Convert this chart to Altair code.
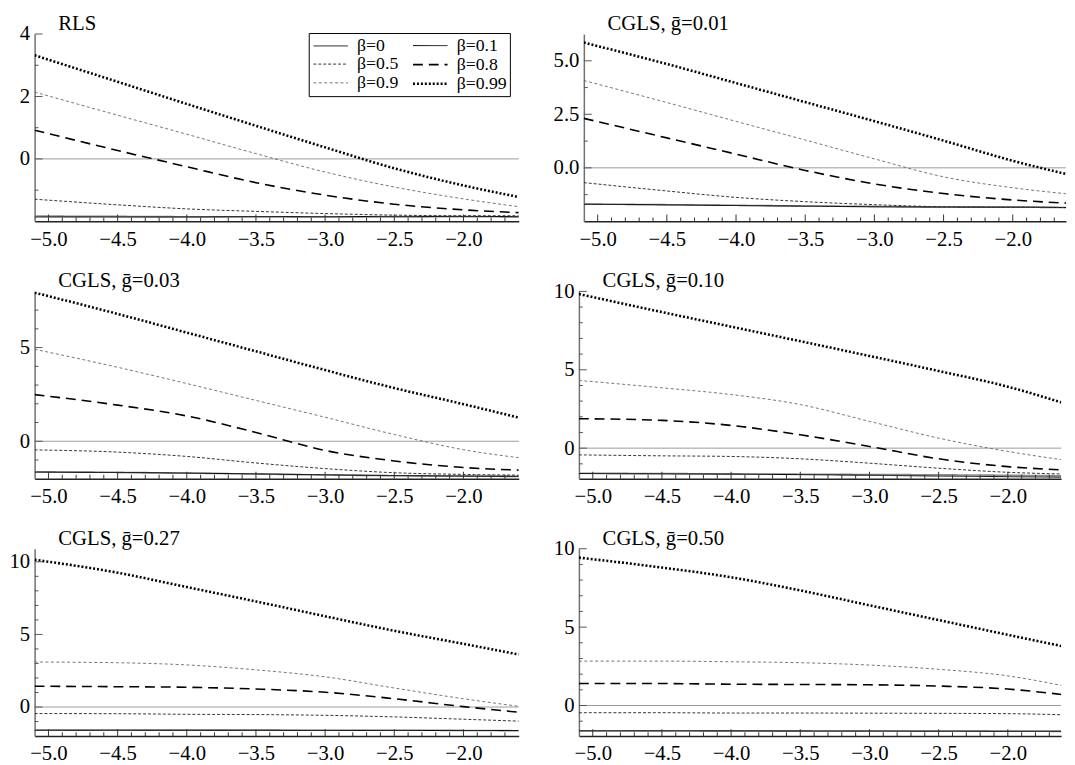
import altair as alt
import pandas as pd

# ---------------- data ----------------
X = [-5.1, -4.5, -4.0, -3.5, -3.0, -2.5, -2.0, -1.6]
BETAS = ["β=0", "β=0.1", "β=0.5", "β=0.8", "β=0.9", "β=0.99"]
X_MAJOR = [-5.0, -4.5, -4.0, -3.5, -3.0, -2.5, -2.0]
X_MINOR = [round(-5.0 + 0.1 * i, 2) for i in range(34) if i % 5 != 0]

RLS_B0 = [-1.83, -1.84, -1.85, -1.85, -1.86, -1.86, -1.85, -1.86]
RLS_B01 = [-1.86, -1.86, -1.86, -1.85, -1.85, -1.84, -1.84, -1.85]
RLS_B05 = [-1.29, -1.47, -1.60, -1.68, -1.75, -1.80, -1.82, -1.82]
RLS_B08 = [0.92, 0.27, -0.25, -0.76, -1.16, -1.45, -1.63, -1.72]
RLS_B09 = [2.14, 1.40, 0.79, 0.17, -0.42, -0.90, -1.28, -1.53]
RLS_B099 = [3.32, 2.47, 1.76, 1.06, 0.37, -0.30, -0.85, -1.22]

G001_B0 = [-1.69, -1.72, -1.75, -1.78, -1.80, -1.83, -1.84, -1.85]
G001_B01 = [-1.70, -1.73, -1.76, -1.79, -1.82, -1.83, -1.83, -1.86]
G001_B05 = [-0.69, -1.08, -1.38, -1.58, -1.72, -1.82, -1.85, -1.85]
G001_B08 = [2.31, 1.40, 0.64, -0.12, -0.75, -1.20, -1.50, -1.65]
G001_B09 = [4.08, 3.05, 2.17, 1.30, 0.42, -0.42, -0.93, -1.22]
G001_B099 = [5.85, 4.85, 3.96, 3.07, 2.18, 1.27, 0.33, -0.31]

G003_B0 = [-1.63, -1.66, -1.70, -1.75, -1.80, -1.84, -1.86, -1.88]
G003_B01 = [-1.65, -1.67, -1.70, -1.74, -1.79, -1.83, -1.86, -1.87]
G003_B05 = [-0.46, -0.58, -0.81, -1.16, -1.46, -1.68, -1.77, -1.81]
G003_B08 = [2.49, 1.93, 1.35, 0.47, -0.49, -1.05, -1.40, -1.54]
G003_B09 = [4.91, 3.95, 3.08, 2.18, 1.28, 0.36, -0.45, -0.88]
G003_B099 = [7.93, 6.80, 5.80, 4.80, 3.80, 2.84, 1.98, 1.26]

G010_B0 = [-1.60, -1.62, -1.64, -1.66, -1.68, -1.70, -1.73, -1.76]
G010_B01 = [-1.62, -1.64, -1.66, -1.69, -1.73, -1.78, -1.82, -1.85]
G010_B05 = [-0.43, -0.49, -0.53, -0.68, -0.96, -1.28, -1.54, -1.65]
G010_B08 = [1.88, 1.77, 1.45, 0.85, 0.11, -0.68, -1.18, -1.39]
G010_B09 = [4.32, 3.85, 3.42, 2.78, 1.71, 0.64, -0.21, -0.75]
G010_B099 = [9.83, 8.68, 7.75, 6.82, 5.88, 4.92, 3.92, 2.88]

G027_B0 = [-1.58, -1.58, -1.59, -1.59, -1.60, -1.60, -1.61, -1.63]
G027_B01 = [-1.60, -1.60, -1.60, -1.60, -1.61, -1.61, -1.62, -1.62]
G027_B05 = [-0.45, -0.46, -0.50, -0.52, -0.57, -0.68, -0.84, -0.97]
G027_B08 = [1.43, 1.40, 1.36, 1.24, 1.02, 0.57, 0.03, -0.36]
G027_B09 = [3.10, 3.05, 2.90, 2.56, 2.08, 1.31, 0.57, 0.05]
G027_B099 = [10.14, 9.25, 8.26, 7.27, 6.25, 5.25, 4.35, 3.62]

G050_B0 = [-1.61, -1.61, -1.62, -1.62, -1.63, -1.63, -1.64, -1.65]
G050_B01 = [-1.62, -1.62, -1.62, -1.63, -1.63, -1.64, -1.64, -1.64]
G050_B05 = [-0.46, -0.46, -0.48, -0.48, -0.49, -0.50, -0.52, -0.59]
G050_B08 = [1.40, 1.40, 1.36, 1.34, 1.32, 1.24, 1.05, 0.69]
G050_B09 = [2.83, 2.83, 2.79, 2.73, 2.58, 2.31, 1.89, 1.26]
G050_B099 = [9.43, 8.80, 8.18, 7.34, 6.39, 5.45, 4.51, 3.77]

TITLES = ["RLS", "CGLS, ḡ=0.01", "CGLS, ḡ=0.03", "CGLS, ḡ=0.10", "CGLS, ḡ=0.27", "CGLS, ḡ=0.50"]
SERIES = [
    [RLS_B0, RLS_B01, RLS_B05, RLS_B08, RLS_B09, RLS_B099],
    [G001_B0, G001_B01, G001_B05, G001_B08, G001_B09, G001_B099],
    [G003_B0, G003_B01, G003_B05, G003_B08, G003_B09, G003_B099],
    [G010_B0, G010_B01, G010_B05, G010_B08, G010_B09, G010_B099],
    [G027_B0, G027_B01, G027_B05, G027_B08, G027_B09, G027_B099],
    [G050_B0, G050_B01, G050_B05, G050_B08, G050_B09, G050_B099],
]
Y_DOMAINS = [[-2.0, 4.0], [-2.5, 6.25], [-2.0, 8.0], [-1.95, 10.0], [-2.0, 10.9], [-1.95, 10.0]]
Y_MAJOR = [[0, 2, 4], [0, 2.5, 5], [0, 5], [0, 5, 10], [0, 5, 10], [0, 5, 10]]
Y_MINOR = [[-1, 1, 3], [-1.25, 1.25, 3.75], [-1, 1, 2, 3, 4, 6, 7],
           [-1, 1, 2, 3, 4, 6, 7, 8, 9], [-1, 1, 2, 3, 4, 6, 7, 8, 9], [-1, 1, 2, 3, 4, 6, 7, 8, 9]]
Y_FORMATS = ["d", ".1f", "d", "d", "d", "d"]

# ---------------- style ----------------
COLORS = ["#8a8a8a", "#000000", "#333333", "#000000", "#666666", "#000000"]
DASHES = [[1, 0], [1, 0], [3, 2], [10, 6], [3, 2.5], [2, 2]]
WIDTHS = [1.6, 1.0, 1.0, 1.6, 0.9, 2.6]
FONT = "Liberation Serif"
H = 190
W_LEFT = 491
W_RIGHT = 489
X_DOM_LEFT = [-5.1, -1.6]
X_DOM_RIGHT = [-5.1, -1.615]


def panel(i):
    width = W_LEFT if i % 2 == 0 else W_RIGHT
    xdom = X_DOM_LEFT if i % 2 == 0 else X_DOM_RIGHT
    rows = []
    for b, vals in zip(BETAS, SERIES[i]):
        for x, y in zip(X, vals):
            rows.append({"x": x, "y": y, "beta": b})
    df = pd.DataFrame(rows)
    xs = alt.Scale(domain=xdom, nice=False, zero=False)
    ys = alt.Scale(domain=Y_DOMAINS[i], nice=False, zero=False)

    if i == 0:
        legend = alt.Legend(
            title=None, orient="none", legendX=278, legendY=-1, columns=2, direction="horizontal",
            symbolType="M-1,0H3", symbolSize=306, labelFontSize=18, labelFont=FONT,
            labelColor="black", strokeColor="black", fillColor="white",
            padding=3, rowPadding=0, columnPadding=9, labelOffset=25,
        )
    else:
        legend = None

    x_main = alt.Axis(values=X_MAJOR, ticks=False, tickSize=0, labelPadding=7,
                      labelExpr="(datum.value < 0 ? '\u2212' : '') + format(abs(datum.value), '.1f')",
                      domainColor="#222222", domainWidth=1.5, grid=False, title=None,
                      labelFontSize=21, labelFont=FONT, labelColor="black",
                      minExtent=28, maxExtent=28, labelFlush=False)
    y_main = alt.Axis(values=Y_MAJOR[i], format=Y_FORMATS[i], ticks=False, tickSize=0,
                      labelPadding=5, domainColor="#707070", domainWidth=1.5, grid=False,
                      title=None, labelFontSize=21, labelFont=FONT, labelColor="black",
                      minExtent=27, maxExtent=27)

    lines = alt.Chart(df).mark_line(interpolate="monotone", clip=True).encode(
        x=alt.X("x:Q", scale=xs, axis=x_main),
        y=alt.Y("y:Q", scale=ys, axis=y_main),
        color=alt.Color("beta:N", scale=alt.Scale(domain=BETAS, range=COLORS), legend=legend),
        strokeDash=alt.StrokeDash("beta:N", scale=alt.Scale(domain=BETAS, range=DASHES), legend=legend),
        strokeWidth=alt.StrokeWidth("beta:N", scale=alt.Scale(type="ordinal", domain=BETAS, range=WIDTHS),
                                    legend=legend),
    )

    def xticks(vals, size):
        return alt.Chart(pd.DataFrame({"xt": vals})).mark_tick(
            orient="vertical", size=size, thickness=1, color="#333333", opacity=1
        ).encode(x=alt.X("xt:Q", scale=xs, axis=None), y=alt.value(H - size / 2))

    def yticks(vals, size):
        return alt.Chart(pd.DataFrame({"yt": vals})).mark_tick(
            orient="horizontal", size=size, thickness=1, color="#555555", opacity=1
        ).encode(y=alt.Y("yt:Q", scale=ys, axis=None), x=alt.value(size / 2))

    zero = alt.Chart(pd.DataFrame({"z": [0]})).mark_rule(color="#9a9a9a", strokeWidth=1).encode(
        y=alt.Y("z:Q", scale=ys, axis=None)
    )

    title = alt.Chart(pd.DataFrame({"t": [TITLES[i]]})).mark_text(
        align="left", baseline="alphabetic", fontSize=21, font=FONT, color="black"
    ).encode(text="t:N", x=alt.value(24), y=alt.value(-4))

    return alt.layer(
        zero, lines,
        xticks(X_MAJOR, 7), xticks(X_MINOR, 4),
        yticks(Y_MAJOR[i], 8), yticks(Y_MINOR[i], 4),
        title,
    ).resolve_axis(x="independent", y="independent").properties(width=width, height=H)


rows = [alt.hconcat(panel(2 * r), panel(2 * r + 1), spacing=33) for r in range(3)]
chart = alt.vconcat(*rows, spacing=22).properties(
    padding={"left": 0, "top": 0, "right": 0, "bottom": 0}
).configure(font=FONT).configure_view(stroke=None)

chart.save("out.html", embed_options={"renderer": "svg", "actions": False})
